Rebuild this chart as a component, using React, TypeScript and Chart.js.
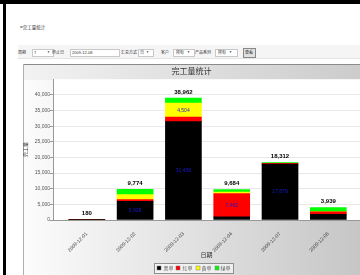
import React, { useEffect, useRef } from 'react';
import { Chart, registerables } from 'chart.js';

Chart.register(...registerables);

const categories = ['2009-12-01', '2009-12-02', '2009-12-03', '2009-12-04', '2009-12-07', '2009-12-08'];
const seriesNames = ['黑单', '红单', '黄单', '绿单'];
const blackValues = [180, 5928, 31458, 1000, 17879, 1800];
const redValues = [0, 600, 1400, 7462, 250, 800];
const yellowValues = [0, 1600, 4504, 500, 0, 0];
const greenValues = [0, 1646, 1600, 722, 183, 1339];
const yTickValues = [0, 5000, 10000, 15000, 20000, 25000, 30000, 35000, 40000];
const chartTitle = '完工量统计';
const xTitle = '日期';
const yTitle = '完工量';

const seriesValues = [blackValues, redValues, yellowValues, greenValues];
const seriesColors = ['#000000', '#ff0000', '#ffff00', '#00ff00'];

const FONT = '"Liberation Sans", "Noto Sans CJK SC", sans-serif';
const fmt = (v: number) => v.toLocaleString('en-US');

const panelPlugin = {
  id: 'panelBg',
  beforeDraw(chart: any) {
    const { ctx, width, height, chartArea } = chart;
    ctx.save();
    const g = ctx.createLinearGradient(0, 0, width, 0);
    g.addColorStop(0, '#fcfcfc');
    g.addColorStop(1, '#c6c6c6');
    ctx.fillStyle = g;
    ctx.fillRect(0, 0, width, height);
    const g2 = ctx.createLinearGradient(0, 0, width, 0);
    g2.addColorStop(0, '#f2f2f2');
    g2.addColorStop(1, '#cccccc');
    ctx.fillStyle = g2;
    ctx.fillRect(0, 0, width, 16);
    ctx.fillStyle = '#ffffff';
    ctx.fillRect(chartArea.left, chartArea.top, chartArea.right - chartArea.left, chartArea.bottom - chartArea.top);
    ctx.strokeStyle = '#8a8a8a';
    ctx.lineWidth = 1;
    ctx.beginPath();
    ctx.moveTo(0, 0.5);
    ctx.lineTo(width, 0.5);
    ctx.stroke();
    ctx.strokeStyle = '#b0b0b0';
    ctx.beginPath();
    ctx.moveTo(0.5, 0);
    ctx.lineTo(0.5, height);
    ctx.stroke();
    ctx.restore();
  },
  afterDraw(chart: any) {
    // legend: drawn from series names / colours
    const { ctx } = chart;
    ctx.save();
    ctx.font = `5px ${FONT}`;
    const box = 4;
    const gap = 2;
    const itemGap = 3;
    const widths = seriesNames.map((n) => box + gap + ctx.measureText(n).width);
    const total = widths.reduce((a, b) => a + b, 0) + itemGap * (seriesNames.length - 1);
    const cx = 171;
    const cy = 204;
    let x = cx - total / 2;
    ctx.fillStyle = 'rgba(255,255,255,0.55)';
    ctx.fillRect(Math.round(x - 3), cy - 5, Math.round(total + 6), 10);
    ctx.strokeStyle = '#8f8f8f';
    ctx.lineWidth = 1;
    ctx.strokeRect(Math.round(x - 3) + 0.5, cy - 5 + 0.5, Math.round(total + 6), 10);
    ctx.textBaseline = 'middle';
    ctx.textAlign = 'left';
    seriesNames.forEach((n, i) => {
      ctx.fillStyle = seriesColors[i];
      ctx.fillRect(Math.round(x), cy - 2, box, box);
      ctx.strokeStyle = '#777777';
      ctx.lineWidth = 0.5;
      ctx.strokeRect(Math.round(x), cy - 2, box, box);
      ctx.fillStyle = '#555555';
      ctx.fillText(n, x + box + gap, cy + 0.5);
      x += widths[i] + itemGap;
    });
    ctx.restore();
  },
};

const labelPlugin = {
  id: 'barLabels',
  afterDatasetsDraw(chart: any) {
    const { ctx } = chart;
    const yScale = chart.scales.y;
    const metas = seriesValues.map((_, d) => chart.getDatasetMeta(d));
    ctx.save();
    ctx.textAlign = 'center';
    ctx.textBaseline = 'middle';
    categories.forEach((_, i) => {
      const total = seriesValues.reduce((s, arr) => s + arr[i], 0);
      const x = metas[0].data[i].x;
      ctx.font = `bold 6px ${FONT}`;
      ctx.fillStyle = '#000000';
      ctx.fillText(fmt(total), x, yScale.getPixelForValue(total) - 6);
      ctx.font = `5px ${FONT}`;
      ctx.fillStyle = '#1a1acc';
      seriesValues.forEach((arr, d) => {
        const v = arr[i];
        if (v >= 4000) {
          const el = metas[d].data[i];
          ctx.fillText(fmt(v), el.x, (el.y + el.base) / 2);
        }
      });
    });
    ctx.restore();
  },
};

export default function App() {
  const ref = useRef<HTMLCanvasElement>(null);

  useEffect(() => {
    if (!ref.current) return;
    const chart = new Chart(ref.current, {
      type: 'bar',
      data: {
        datasets: seriesValues.map((arr, d) => ({
          label: seriesNames[d],
          data: categories.map((_, i) => ({ x: i, y: arr[i] })),
          backgroundColor: seriesColors[d],
          borderWidth: 0,
          barThickness: 36,
        })),
      },
      options: {
        animation: false,
        responsive: false,
        devicePixelRatio: 1,
        layout: { padding: 0 },
        plugins: {
          title: {
            display: true,
            text: chartTitle,
            color: '#333333',
            font: { size: 8, family: FONT, weight: 'normal' },
            padding: { top: 3, bottom: 2.6 },
          },
          legend: { display: false },
          tooltip: { enabled: false },
        },
        scales: {
          x: {
            type: 'linear',
            stacked: true,
            offset: false,
            min: -0.7,
            max: 5.656,
            afterBuildTicks: (axis: any) => {
              axis.ticks = categories.map((_, i) => ({ value: i }));
            },
            afterFit: (axis: any) => {
              axis.height = 55;
            },
            ticks: {
              autoSkip: false,
              minRotation: 45,
              maxRotation: 45,
              color: '#444444',
              font: { size: 5, family: FONT },
              callback: (v: any) => categories[v as number] ?? '',
            },
            grid: { display: false },
            border: { display: true, color: '#999999' },
            title: {
              display: true,
              text: xTitle,
              color: '#333333',
              font: { size: 6, family: FONT },
              padding: { top: 0, bottom: 16 },
            },
          },
          y: {
            type: 'linear',
            stacked: true,
            min: 0,
            max: 45000,
            afterBuildTicks: (axis: any) => {
              axis.ticks = yTickValues.map((v) => ({ value: v }));
            },
            afterFit: (axis: any) => {
              axis.width = 30;
            },
            ticks: {
              padding: 0,
              color: '#555555',
              font: { size: 5, family: FONT },
              callback: (v: any) => fmt(Number(v)),
            },
            grid: { color: '#e8e8e8', tickLength: 3, tickColor: '#999999' },
            border: { display: true, color: '#999999' },
            title: {
              display: true,
              text: yTitle,
              color: '#333333',
              font: { size: 5, family: FONT },
              padding: 0,
            },
          },
        },
      },
      plugins: [panelPlugin, labelPlugin],
    } as any);
    return () => chart.destroy();
  }, []);

  const txt = (left: number, top: number, s: string, extra: any = {}) => (
    <span style={{ position: 'absolute', left, top, fontSize: 4, lineHeight: '5px', color: '#333', whiteSpace: 'nowrap', ...extra }}>{s}</span>
  );
  const box = (left: number, width: number) => (
    <div style={{ position: 'absolute', left, top: 49, width, height: 6, border: '1px solid #c8c8c8', background: '#fff' }} />
  );

  return (
    <div style={{ position: 'fixed', left: 0, top: 0, width: 360, height: 275, overflow: 'hidden', background: '#fff', fontFamily: FONT }}>
      <div style={{ position: 'absolute', left: 0, top: 0, width: 360, height: 4, background: '#000' }} />
      <div style={{ position: 'absolute', left: 3, top: 0, width: 3, height: 275, background: '#000' }} />
      {txt(20, 25, '=完工量统计', { fontSize: 4.5 })}
      <div style={{ position: 'absolute', left: 18, top: 45, width: 342, height: 13, background: '#f5f5f5', borderBottom: '1px solid #e4e4e4' }} />
      {txt(18, 50, '周期')}
      {box(32, 20)}
      {txt(34, 50, '7')}
      {txt(47, 50, '▼', { fontSize: 3 })}
      {txt(52, 50, '终止日')}
      {box(70, 48)}
      {txt(72, 50, '2009-12-08')}
      {txt(121, 50, '汇总方式')}
      {box(138, 14)}
      {txt(140, 50, '日')}
      {txt(146, 50, '▼', { fontSize: 3 })}
      {txt(161, 50, '客户')}
      {box(173, 20)}
      {txt(176, 50, '所有')}
      {txt(187, 50, '▼', { fontSize: 3 })}
      {txt(195, 50, '产品系列')}
      {box(215, 21)}
      {txt(218, 50, '所有')}
      {txt(229, 50, '▼', { fontSize: 3 })}
      <div style={{ position: 'absolute', left: 243, top: 48, width: 11, height: 8, border: '1px solid #888', background: '#e0e0e0' }} />
      {txt(245, 50, '查看')}
      <canvas ref={ref} width={337} height={211} style={{ position: 'absolute', left: 23, top: 64, width: 337, height: 211 }} />
    </div>
  );
}
